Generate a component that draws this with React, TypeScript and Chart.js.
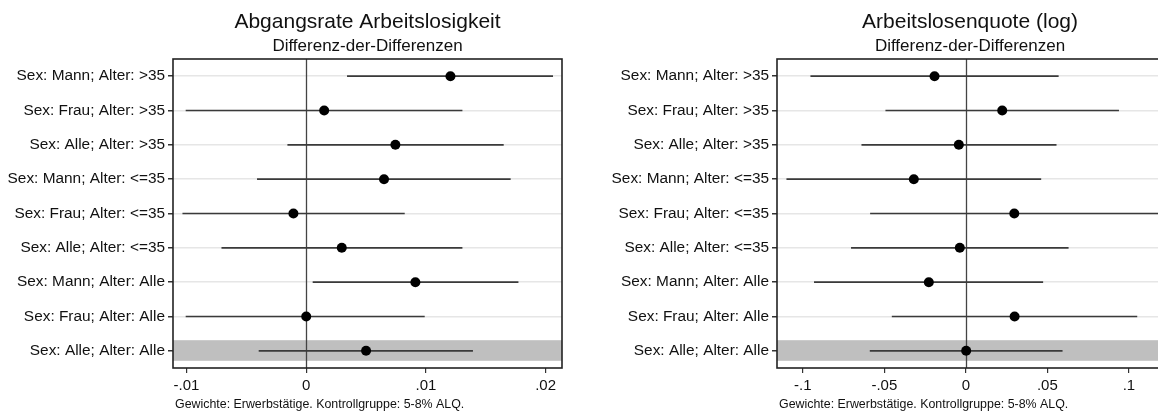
import React, { useEffect, useRef } from "react";
import { Chart, registerables } from "chart.js";

Chart.register(...registerables);

const categories = [
  "Sex: Mann; Alter: >35",
  "Sex: Frau; Alter: >35",
  "Sex: Alle; Alter: >35",
  "Sex: Mann; Alter: <=35",
  "Sex: Frau; Alter: <=35",
  "Sex: Alle; Alter: <=35",
  "Sex: Mann; Alter: Alle",
  "Sex: Frau; Alter: Alle",
  "Sex: Alle; Alter: Alle",
];

const abgEst = [0.01205, 0.0015, 0.00745, 0.0065, -0.00107, 0.00297, 0.00912, 0.0, 0.005];
const abgLo = [0.00341, -0.01007, -0.00157, -0.00411, -0.01034, -0.00708, 0.00054, -0.01007, -0.00397];
const abgHi = [0.02062, 0.01305, 0.0165, 0.01708, 0.00823, 0.01305, 0.01773, 0.0099, 0.01393];

const alqEst = [-0.0192, 0.0223, -0.0043, -0.0319, 0.0297, -0.0037, -0.0227, 0.0299, 0.0002];
const alqLo = [-0.0953, -0.0493, -0.064, -0.11, -0.0587, -0.0704, -0.0931, -0.0454, -0.0589];
const alqHi = [0.0569, 0.0939, 0.0556, 0.0462, 0.125, 0.063, 0.0474, 0.1051, 0.0593];

const abgTicks = [-0.01, 0, 0.01, 0.02];
const alqTicks = [-0.1, -0.05, 0, 0.05, 0.1];

const highlightIndex = 8;
const subtitle = "Differenz-der-Differenzen";
const footer = "Gewichte: Erwerbstätige. Kontrollgruppe: 5-8% ALQ.";

const FONT = "'Liberation Sans', Arial, Helvetica, sans-serif";
Chart.defaults.font.family = FONT;

const fmt = (v: number) => {
  if (Math.abs(v) < 1e-12) return "0";
  const s = String(Math.abs(Number(v.toPrecision(6)))).replace(/^0/, "");
  return (v < 0 ? "-" : "") + s;
};

const decor = (title: string) => ({
  id: "decor" + title,
  beforeDatasetsDraw(chart: any) {
    const { ctx, chartArea: a, scales } = chart;
    const y = scales.y;
    const x = scales.x;
    ctx.save();
    const y0 = y.getPixelForValue(highlightIndex + 1 - 0.31);
    const y1 = y.getPixelForValue(highlightIndex + 1 + 0.29);
    ctx.fillStyle = "#bfbfbf";
    ctx.fillRect(a.left, y0, a.right - a.left, y1 - y0);
    const zx = Math.round(x.getPixelForValue(0)) + 0.5;
    ctx.strokeStyle = "#444";
    ctx.lineWidth = 1.3;
    ctx.beginPath();
    ctx.moveTo(zx, a.top);
    ctx.lineTo(zx, a.bottom);
    ctx.stroke();
    ctx.restore();
  },
  afterDraw(chart: any) {
    const { ctx, chartArea: a } = chart;
    ctx.save();
    ctx.strokeStyle = "#222";
    ctx.lineWidth = 1.6;
    ctx.strokeRect(a.left, a.top, a.right - a.left, a.bottom - a.top);
    const cx = (a.left + a.right) / 2;
    ctx.fillStyle = "#111";
    ctx.textAlign = "center";
    ctx.textBaseline = "middle";
    ctx.font = `21px ${FONT}`;
    ctx.fillText(title, cx, 22);
    ctx.font = `17px ${FONT}`;
    ctx.fillText(subtitle, cx, 46);
    ctx.textAlign = "left";
    ctx.font = `12.4px ${FONT}`;
    ctx.fillText(footer, a.left + 2, 405);
    ctx.restore();
  },
});

function makeConfig(
  est: number[],
  lo: number[],
  hi: number[],
  ticks: number[],
  min: number,
  max: number,
  title: string,
  yWidth: number,
  padRight: number
): any {
  return {
    type: "scatter",
    data: {
      datasets: [
        ...categories.map((c, i) => ({
          type: "line",
          label: c,
          data: [
            { x: lo[i], y: i + 1 },
            { x: hi[i], y: i + 1 },
          ],
          borderColor: "#3a3a3a",
          borderWidth: 1.6,
          pointRadius: 0,
          showLine: true,
          fill: false,
          order: 1,
        })),
        {
          type: "scatter",
          label: "est",
          data: est.map((v, i) => ({ x: v, y: i + 1 })),
          pointRadius: 5,
          pointHoverRadius: 5,
          backgroundColor: "#000",
          borderColor: "#000",
          borderWidth: 0,
          order: 0,
        },
      ],
    },
    options: {
      animation: false,
      responsive: false,
      events: [],
      layout: { padding: { top: 59, left: 0, right: padRight, bottom: 0 } },
      plugins: { legend: { display: false }, tooltip: { enabled: false } },
      scales: {
        x: {
          type: "linear",
          min,
          max,
          afterBuildTicks: (s: any) => {
            s.ticks = ticks.map((v) => ({ value: v }));
          },
          afterFit: (s: any) => {
            s.height = 45;
          },
          grid: {
            drawOnChartArea: false,
            drawTicks: true,
            tickLength: 5,
            tickColor: "#333",
            lineWidth: 1.2,
          },
          border: { display: false },
          ticks: {
            font: { size: 15 },
            color: "#111",
            padding: 4,
            maxRotation: 0,
            autoSkip: false,
            callback: (v: number) => fmt(v),
          },
        },
        y: {
          type: "linear",
          reverse: true,
          min: 0.5,
          max: 9.5,
          afterBuildTicks: (s: any) => {
            s.ticks = categories.map((_, i) => ({ value: i + 1 }));
          },
          afterFit: (s: any) => {
            s.width = yWidth;
          },
          grid: {
            color: "#e6e6e6",
            lineWidth: 1.5,
            tickColor: "#333",
            tickLength: 5,
          },
          border: { display: false },
          ticks: {
            font: { size: 15.4 },
            color: "#111",
            padding: 3,
            autoSkip: false,
            callback: (v: number) => categories[Math.round(v) - 1],
          },
        },
      },
    },
    plugins: [decor(title)],
  };
}

function Panel(props: { left: number; width: number; config: () => any }) {
  const ref = useRef<HTMLCanvasElement | null>(null);
  useEffect(() => {
    if (!ref.current) return;
    const chart = new Chart(ref.current, props.config());
    return () => chart.destroy();
  }, []);
  return (
    <canvas
      ref={ref}
      width={props.width}
      height={413}
      style={{ position: "absolute", left: props.left, top: 0, display: "block" }}
    />
  );
}

export default function App() {
  return (
    <div
      style={{
        position: "absolute",
        left: 0,
        top: 0,
        width: 1158,
        height: 413,
        overflow: "hidden",
        background: "#fff",
      }}
    >
      <Panel
        left={0}
        width={580}
        config={() =>
          makeConfig(abgEst, abgLo, abgHi, abgTicks, -0.01113, 0.02137, "Abgangsrate Arbeitslosigkeit", 173, 18)
        }
      />
      <Panel
        left={580}
        width={600}
        config={() =>
          makeConfig(alqEst, alqLo, alqHi, alqTicks, -0.1158, 0.1209, "Arbeitslosenquote (log)", 197, 17)
        }
      />
    </div>
  );
}
